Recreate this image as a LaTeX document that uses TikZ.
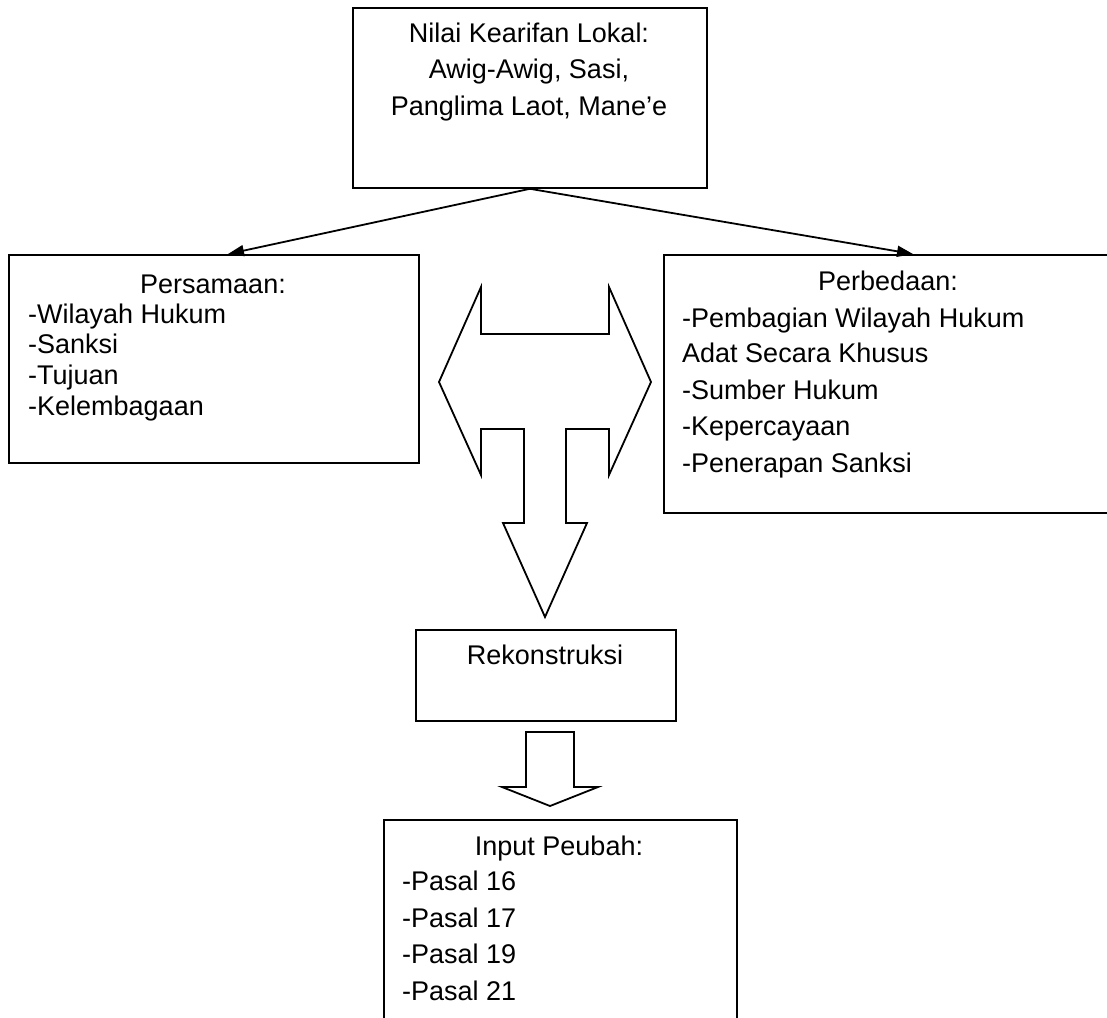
\documentclass[tikz,border=0pt]{standalone}
\usepackage{fontspec}
\setmainfont{Liberation Sans}
\usetikzlibrary{arrows.meta,calc}
\begin{document}
\begin{tikzpicture}[x=1pt,y=-1pt,
  box/.style={draw,line width=1.8pt,fill=white,inner sep=0pt,anchor=north west},
  txt/.style={inner sep=0pt,font=\fontsize{27}{32}\selectfont},
  ttl/.style={txt,anchor=base},
  item/.style={txt,anchor=base west},
  conn/.style={line width=1.8pt,-{Triangle[length=16pt,width=11pt]}},
  blockarrow/.style={draw,line width=1.8pt,fill=white,line join=miter}]
\useasboundingbox (0,0) rectangle (1107,1017);
\clip (0,0) rectangle (1107,1017);
% boxes
\node[box,minimum width=354pt,minimum height=180pt] (top) at (352,7) {};
\node[box,minimum width=410pt,minimum height=208pt] (pers) at (8,254) {};
\node[box,minimum width=450pt,minimum height=258pt] (perb) at (663,254) {};
\node[box,minimum width=260pt,minimum height=91pt] (rek) at (415,629) {};
\node[box,minimum width=353pt,minimum height=215pt] (inp) at (383,819) {};
% top box text
\node[ttl] (t1) at (529,42) {Nilai Kearifan Lokal:};
\node[ttl] (t2) at (529,78) {Awig-Awig, Sasi,};
\node[ttl] (t3) at (529,115) {Panglima Laot, Mane’e};
% persamaan
\node[ttl] (p0) at (213,293) {Persamaan:};
\node[item] (p1) at (28,323) {-Wilayah Hukum};
\node[item] (p2) at (28,353) {-Sanksi};
\node[item] (p3) at (28,384) {-Tujuan};
\node[item] (p4) at (28,415) {-Kelembagaan};
% perbedaan
\node[ttl] (b0) at (888,290) {Perbedaan:};
\node[item] (b1) at (682,327) {-Pembagian Wilayah Hukum};
\node[item] (b2) at (682,362) {Adat Secara Khusus};
\node[item] (b3) at (682,399) {-Sumber Hukum};
\node[item] (b4) at (682,435) {-Kepercayaan};
\node[item] (b5) at (682,472) {-Penerapan Sanksi};
% rekonstruksi
\node[ttl] (r0) at (545,664) {Rekonstruksi};
% input
\node[ttl] (i0) at (559,855) {Input Peubah:};
\node[item] (i1) at (402,890) {-Pasal 16};
\node[item] (i2) at (402,927) {-Pasal 17};
\node[item] (i3) at (402,963) {-Pasal 19};
\node[item] (i4) at (402,1000) {-Pasal 21};
% connectors
\coordinate (pL) at (228,254);
\coordinate (pR) at (913,254);
\draw[conn] (top.south) -- (pL);
\draw[conn] (top.south) -- (pR);
% big T block arrow
\draw[blockarrow] (439,382) -- (481,287) -- (481,334) -- (609,334) -- (609,287)
  -- (651,382) -- (609,475) -- (609,429) -- (566,429) -- (566,523) -- (587,523)
  -- (545,617) -- (503,523) -- (524,523) -- (524,429) -- (481,429) -- (481,475) -- cycle;
% small down block arrow
\draw[blockarrow] (526,732) -- (574,732) -- (574,787) -- (598,787) -- (550,806)
  -- (502,787) -- (526,787) -- cycle;
\end{tikzpicture}
\end{document}
